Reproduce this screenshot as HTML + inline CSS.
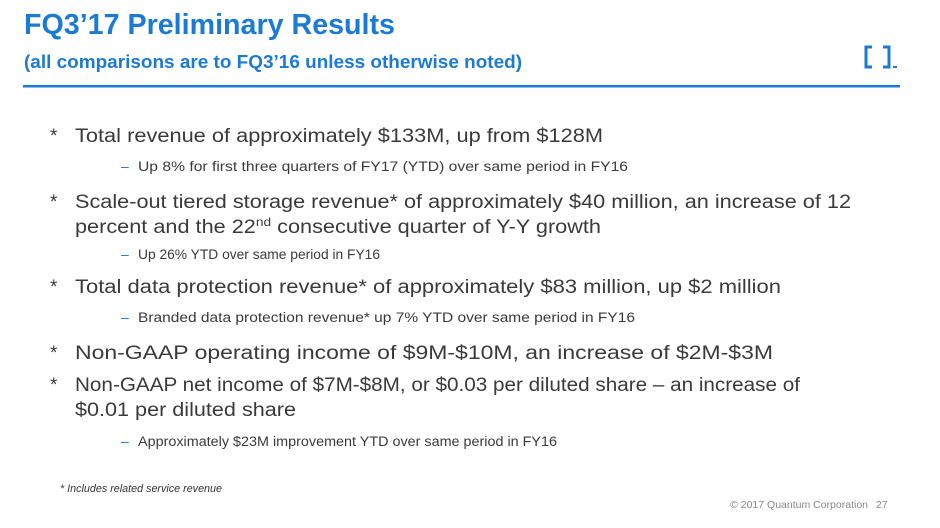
<!DOCTYPE html>
<html><head><meta charset="utf-8"><style>
html,body{margin:0;padding:0;background:#fff;width:940px;height:528px;overflow:hidden}
svg{display:block}
text{font-family:"Liberation Sans",sans-serif}
.b{font-size:19px;fill:#3a3a3a}
.s{font-size:13.5px;fill:#3a3a3a}
.d{fill:#1a7ad4;font-size:14px}
</style></head><body>
<svg width="940" height="528" viewBox="0 0 940 528">
<text x="24" y="34" font-size="29" font-weight="bold" fill="#1a7ad4" textLength="371" lengthAdjust="spacingAndGlyphs">FQ3’17 Preliminary Results</text>
<text x="24" y="68" font-size="18" font-weight="bold" fill="#1a7ad4" textLength="498" lengthAdjust="spacingAndGlyphs">(all comparisons are to FQ3’16 unless otherwise noted)</text>
<rect x="23" y="85" width="877" height="2.5" fill="#1a7ad4"/>
<g fill="none" stroke="#1a7ad4" stroke-width="3">
<path d="M872 47 H866 V67 H872"/><path d="M883 47 H889 V67 H883"/>
</g>
<rect x="893" y="66" width="4" height="2" fill="#1a7ad4"/>

<text class="b" x="50" y="142">*</text>
<text class="b" x="75" y="142" textLength="528" lengthAdjust="spacingAndGlyphs">Total revenue of approximately $133M, up from $128M</text>
<text class="d" x="121" y="171">–</text>
<text class="s" x="138" y="171" textLength="490" lengthAdjust="spacingAndGlyphs">Up 8% for first three quarters of FY17 (YTD) over same period in FY16</text>

<text class="b" x="50" y="208">*</text>
<text class="b" x="75" y="208" textLength="776" lengthAdjust="spacingAndGlyphs">Scale-out tiered storage revenue* of approximately $40 million, an increase of 12</text>
<text class="b" x="75" y="233" textLength="526" lengthAdjust="spacingAndGlyphs">percent and the 22<tspan font-size="12" dy="-7">nd</tspan><tspan dy="7"> consecutive quarter of Y-Y growth</tspan></text>
<text class="d" x="121" y="259">–</text>
<text class="s" x="138" y="259" textLength="242" lengthAdjust="spacingAndGlyphs">Up 26% YTD over same period in FY16</text>

<text class="b" x="50" y="293">*</text>
<text class="b" x="75" y="293" textLength="706" lengthAdjust="spacingAndGlyphs">Total data protection revenue* of approximately $83 million, up $2 million</text>
<text class="d" x="121" y="322">–</text>
<text class="s" x="138" y="322" textLength="497" lengthAdjust="spacingAndGlyphs">Branded data protection revenue* up 7% YTD over same period in FY16</text>

<text class="b" x="50" y="359">*</text>
<text class="b" x="75" y="359" textLength="698" lengthAdjust="spacingAndGlyphs">Non-GAAP operating income of $9M-$10M, an increase of $2M-$3M</text>

<text class="b" x="50" y="391">*</text>
<text class="b" x="75" y="391" textLength="725" lengthAdjust="spacingAndGlyphs">Non-GAAP net income of $7M-$8M, or $0.03 per diluted share – an increase of</text>
<text class="b" x="75" y="416" textLength="221" lengthAdjust="spacingAndGlyphs">$0.01 per diluted share</text>
<text class="d" x="121" y="446">–</text>
<text class="s" x="138" y="446" textLength="419" lengthAdjust="spacingAndGlyphs">Approximately $23M  improvement YTD over same period in FY16</text>

<text x="60" y="492" font-size="11" font-style="italic" fill="#333" textLength="162" lengthAdjust="spacingAndGlyphs">* Includes related service revenue</text>
<text x="868" y="508" font-size="10.5" fill="#888" text-anchor="end">© 2017 Quantum Corporation</text>
<text x="876" y="508" font-size="10.5" fill="#888">27</text>
</svg>
</body></html>
